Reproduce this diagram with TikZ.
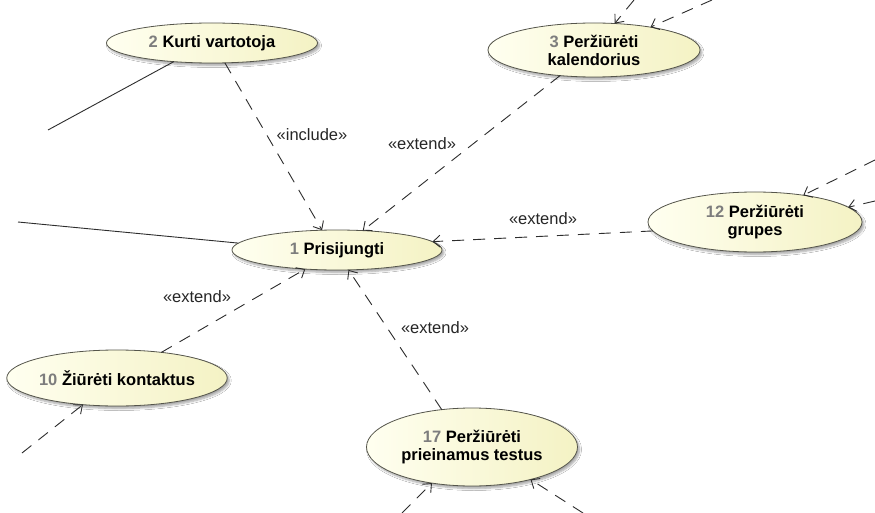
\documentclass[tikz,border=0pt]{standalone}
\usepackage{fontspec}
\setmainfont{Liberation Sans}
\usetikzlibrary{shapes.geometric,arrows.meta,shadows.blur}
\definecolor{ucfillA}{RGB}{255,255,240}
\definecolor{ucfillB}{RGB}{244,242,196}
\definecolor{ucline}{RGB}{85,85,75}
\definecolor{ucnumcol}{RGB}{125,125,125}
\definecolor{edgecol}{RGB}{45,45,45}
\newcommand\usenum[1]{{\color{ucnumcol}#1}}
\begin{document}
\begin{tikzpicture}[x=1pt,y=-1pt,
  usecase/.style={ellipse, draw=ucline, line width=0.8pt,
    left color=ucfillA, right color=ucfillB,
    inner sep=0pt, outer sep=0pt, align=center,
    font=\fontsize{16.5}{18}\selectfont\bfseries,
    blur shadow={shadow xshift=2pt, shadow yshift=-2.5pt,
      shadow blur steps=6, shadow blur radius=2pt, shadow opacity=35}},
  dep/.style={draw=edgecol, line width=0.9pt, dash pattern=on 12pt off 9pt,
    -{Straight Barb[length=7pt,width=12pt]}},
  assoc/.style={draw=edgecol, line width=0.9pt},
  stereo/.style={font=\fontsize{16.5}{18}\selectfont, text=black!85, inner sep=1pt}]

  \fill[white] (0,0) rectangle (875,513);
  \useasboundingbox (0,0) rectangle (875,513);

  % use cases
  \node[usecase, minimum width=211pt, minimum height=40pt] (e2) at (212,43) {\usenum{2} Kurti vartotoja};
  \node[usecase, minimum width=212pt, minimum height=54pt] (e3) at (594,50) {\usenum{3} Peržiūrėti\\kalendorius};
  \node[usecase, minimum width=210pt, minimum height=40pt] (e1) at (337,250) {\usenum{1} Prisijungti};
  \node[usecase, minimum width=214pt, minimum height=60pt] (e12) at (755,222) {\usenum{12} Peržiūrėti\\grupes};
  \node[usecase, minimum width=208pt, minimum height=56pt] (e10) at (117,378) {\usenum{10} Žiūrėti kontaktus};
  \node[usecase, minimum width=211pt, minimum height=78pt] (e17) at (472,447) {\usenum{17} Peržiūrėti\\prieinamus testus};

  % loose ends of connectors leaving the view
  \coordinate (a1) at (48,130);
  \coordinate (a2) at (18,222);
  \coordinate (t3a) at (634,0);
  \coordinate (t3b) at (712,0);
  \coordinate (t12a) at (875,160);
  \coordinate (t12b) at (875,201);
  \coordinate (t10) at (22,453);
  \coordinate (t17a) at (402,513);
  \coordinate (t17b) at (583,513);

  % associations
  \draw[assoc] (a1) -- (e2.206);
  \draw[assoc] (a2) -- (e1.176);

  % dependencies towards 1 Prisijungti
  \draw[dep] (e2.303) -- (e1.127);
  \draw[dep] (e3.217) -- (e1.37);
  \draw[dep] (e12.185) -- (e1.5);
  \draw[dep] (e10.30) -- (e1.211);
  \draw[dep] (e17.129) -- (e1.300);

  % incoming dependencies from outside
  \draw[dep] (t3a) -- (e3.52);
  \draw[dep] (t3b) -- (e3.22);
  \draw[dep] (t12a) -- (e12.29);
  \draw[dep] (t12b) -- (e12.9);
  \draw[dep] (t10) -- (e10.218);
  \draw[dep] (t17a) -- (e17.222);
  \draw[dep] (t17b) -- (e17.331);

  % stereotypes
  \node[stereo] (s1) at (312,135) {«include»};
  \node[stereo] (s2) at (422,144) {«extend»};
  \node[stereo] (s3) at (543,219) {«extend»};
  \node[stereo] (s4) at (197,297) {«extend»};
  \node[stereo] (s5) at (435,328) {«extend»};
\end{tikzpicture}
\end{document}
